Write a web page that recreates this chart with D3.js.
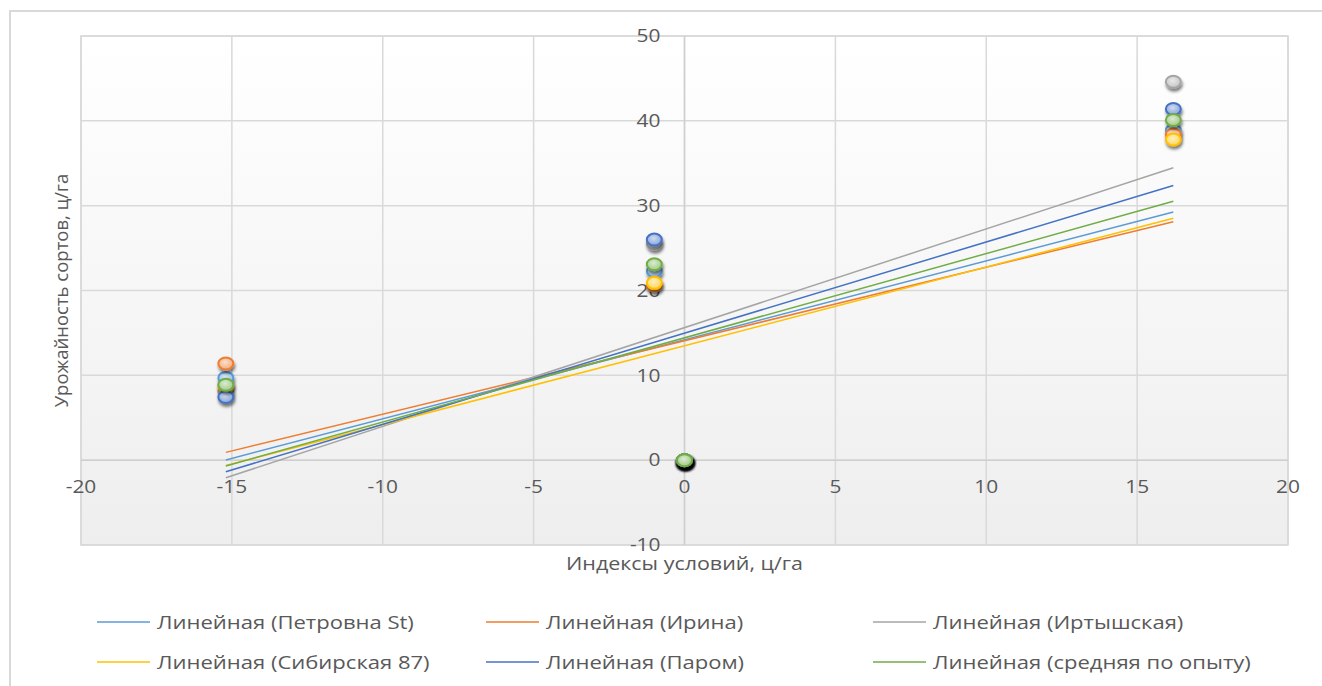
<!DOCTYPE html>
<html>
<head>
<meta charset="utf-8">
<script src="https://cdn.jsdelivr.net/npm/d3@7"></script>
<style>
    body { margin: 0; background: #fff; }
    text { font-family: "Open Sans", sans-serif; fill: #595959; }
</style>
</head>
<body>
<svg id="chart" width="1322" height="686"></svg>
<script>
//indices of conditions; the two last rows are empty cells that the sheet reads as 0
var conditionIndex = [-15.2, -1.0, 16.2, 0, 0];

//yield of each variety, same order as conditionIndex
var petrovna = [9.7, 22.3, 38.9, 0, 0];
var irina = [11.4, 20.6, 38.4, 0, 0];
var irtyshskaya = [8.0, 25.5, 44.6, 0, 0];
var sibirskaya = [8.7, 20.9, 37.8, 0, 0];
var parom = [7.45, 26.0, 41.4, 0, 0];
var average = [8.9, 23.1, 40.1, 0, 0];

var seriesNames = ["Петровна St", "Ирина", "Иртышская", "Сибирская 87", "Паром", "средняя по опыту"];
var seriesValues = [petrovna, irina, irtyshskaya, sibirskaya, parom, average];
var seriesColors = ["#5b9bd5", "#ed7d31", "#a5a5a5", "#ffc000", "#4472c4", "#70ad47"];

var xTicks = [-20, -15, -10, -5, 0, 5, 10, 15, 20];
var yTicks = [-10, 0, 10, 20, 30, 40, 50];

//the picture is a little wider than tall, text gets stretched the same way
var stretch = "scale(1.16,1)";

var svg = d3.select("#chart");
var margin = { left: 81, right: 34, top: 36, bottom: 141 };
var width = 1322 - margin.left - margin.right,
    height = 686 - margin.top - margin.bottom;

var defs = svg.append("defs");

//plot area background: white on top, light grey at the bottom
var bg = defs.append("linearGradient").attr("id", "plotbg")
    .attr("x1", 0).attr("y1", 0).attr("x2", 0).attr("y2", 1);
bg.append("stop").attr("offset", "0%").attr("stop-color", "#ffffff");
bg.append("stop").attr("offset", "100%").attr("stop-color", "#eeeeee");

var shadow = defs.append("filter").attr("id", "shadow")
    .attr("x", "-100%").attr("y", "-100%").attr("width", "300%").attr("height", "300%");
shadow.append("feDropShadow").attr("dx", 1).attr("dy", 3).attr("stdDeviation", 1.6)
    .attr("flood-color", "#000").attr("flood-opacity", 0.5);

//marker fill for every series
seriesColors.forEach(function(c, i) {
    var g = defs.append("radialGradient").attr("id", "mk" + i)
        .attr("cx", "45%").attr("cy", "40%").attr("r", "60%");
    g.append("stop").attr("offset", "0%").attr("stop-color", d3.interpolateRgb(c, "#fff")(0.75));
    g.append("stop").attr("offset", "100%").attr("stop-color", d3.interpolateRgb(c, "#fff")(0.35));
});

//outer chart border
svg.append("rect")
    .attr("x", 10).attr("y", 11).attr("width", 1340).attr("height", 700)
    .attr("fill", "none").attr("stroke", "#d9d9d9").attr("stroke-width", 2);

var plot = svg.append("g").attr("transform", "translate(" + margin.left + "," + margin.top + ")");

var x = d3.scaleLinear().domain([-20, 20]).range([0, width]);
var y = d3.scaleLinear().domain([-10, 50]).range([height, 0]);

plot.append("rect")
    .attr("width", width).attr("height", height)
    .attr("fill", "url(#plotbg)")
    .attr("stroke", "#d9d9d9").attr("stroke-width", 1.5);

//gridlines
plot.append("g").selectAll("line").data(xTicks).enter().append("line")
    .attr("x1", function(d) { return x(d); }).attr("x2", function(d) { return x(d); })
    .attr("y1", 0).attr("y2", height)
    .attr("stroke", "#d9d9d9").attr("stroke-width", 1.5);
plot.append("g").selectAll("line").data(yTicks).enter().append("line")
    .attr("y1", function(d) { return y(d); }).attr("y2", function(d) { return y(d); })
    .attr("x1", 0).attr("x2", width)
    .attr("stroke", "#d9d9d9").attr("stroke-width", 1.5);

//axes cross at zero
plot.append("line")
    .attr("x1", 0).attr("x2", width).attr("y1", y(0)).attr("y2", y(0))
    .attr("stroke", "#cfcfcf").attr("stroke-width", 1.5);
plot.append("line")
    .attr("x1", x(0)).attr("x2", x(0)).attr("y1", 0).attr("y2", height)
    .attr("stroke", "#cfcfcf").attr("stroke-width", 1.5);

//tick labels
plot.append("g").selectAll("text").data(xTicks).enter().append("text")
    .attr("transform", function(d) { return "translate(" + x(d) + "," + (y(0) + 27) + ")" + stretch; })
    .attr("dy", "0.35em")
    .attr("text-anchor", "middle")
    .style("font-size", "18px")
    .text(function(d) { return d; });
plot.append("g").selectAll("text").data(yTicks).enter().append("text")
    .attr("transform", function(d) { return "translate(" + (x(0) - 24) + "," + y(d) + ")" + stretch; })
    .attr("dy", "0.35em")
    .attr("text-anchor", "end")
    .style("font-size", "18px")
    .text(function(d) { return d; });

//points
seriesValues.forEach(function(vals, i) {
    plot.append("g").selectAll("ellipse")
        .data(vals)
        .enter().append("ellipse")
        .attr("cx", function(d, j) { return x(conditionIndex[j]); })
        .attr("cy", function(d) { return y(d); })
        .attr("rx", 7.5).attr("ry", 6)
        .attr("fill", "url(#mk" + i + ")")
        .attr("stroke", seriesColors[i])
        .attr("stroke-width", 2)
        .attr("filter", "url(#shadow)");
});

//linear trend lines (least squares over all rows, like the sheet does)
function trend(xs, ys) {
    var mx = d3.mean(xs), my = d3.mean(ys);
    var sxy = d3.sum(xs, function(v, k) { return (v - mx) * (ys[k] - my); });
    var sxx = d3.sum(xs, function(v) { return (v - mx) * (v - mx); });
    var b = sxy / sxx;
    return { a: my - b * mx, b: b };
}
var xMin = d3.min(conditionIndex), xMax = d3.max(conditionIndex);
seriesValues.forEach(function(vals, i) {
    var t = trend(conditionIndex, vals);
    plot.append("line")
        .attr("x1", x(xMin)).attr("y1", y(t.a + t.b * xMin))
        .attr("x2", x(xMax)).attr("y2", y(t.a + t.b * xMax))
        .attr("stroke", seriesColors[i])
        .attr("stroke-width", 1.5);
});

//axis titles
svg.append("text")
    .attr("transform", "translate(" + (margin.left + x(0)) + ",564)" + stretch)
    .attr("dy", "0.35em")
    .attr("text-anchor", "middle")
    .style("font-size", "18.5px")
    .text("Индексы условий, ц/га");
svg.append("text")
    .attr("transform", "translate(62," + (margin.top + height / 2) + ") rotate(-90)")
    .attr("dy", "0.35em")
    .attr("text-anchor", "middle")
    .style("font-size", "18.5px")
    .text("Урожайность сортов, ц/га");

//legend
var legendCols = [97, 486, 873];
var legendRows = [622, 662];
var legend = svg.append("g").selectAll("g")
    .data(seriesNames)
    .enter().append("g")
    .attr("transform", function(d, i) {
        return "translate(" + legendCols[i % 3] + "," + legendRows[Math.floor(i / 3)] + ")";
    });
legend.append("line")
    .attr("x1", 0).attr("x2", 53)
    .attr("stroke", function(d, i) { return seriesColors[i]; })
    .attr("stroke-width", 1.5);
legend.append("text")
    .attr("transform", "translate(60,0)" + stretch)
    .attr("dy", "0.35em")
    .style("font-size", "19px")
    .text(function(d) { return "Линейная (" + d + ")"; });
</script>
</body>
</html>
